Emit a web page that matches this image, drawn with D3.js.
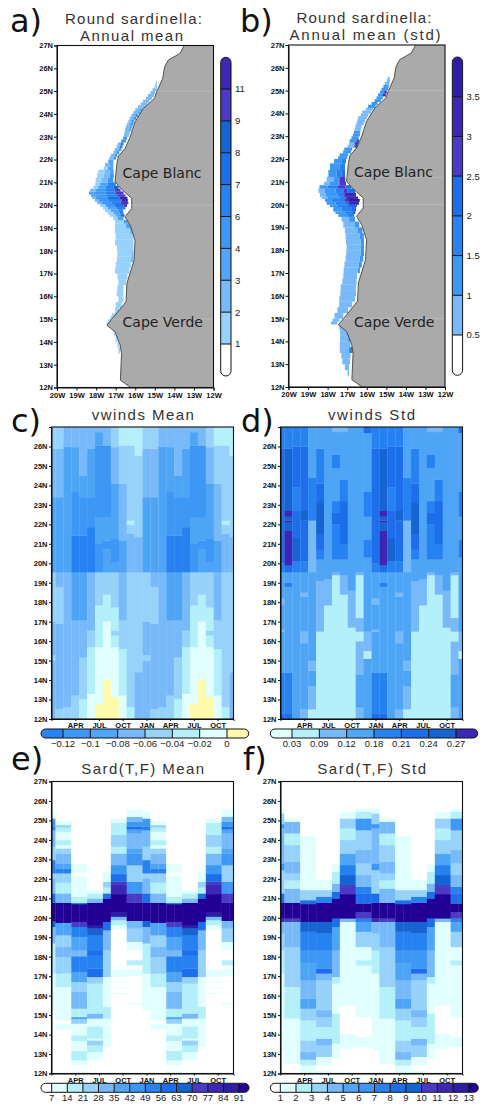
<!DOCTYPE html>
<html>
<head>
<meta charset="utf-8">
<script src="https://d3js.org/d3.v7.min.js"></script>
<style>
html, body { margin: 0; padding: 0; background: #fff; }
svg { display: block; }
.axis text { font-family: "Liberation Sans", sans-serif; font-size: 7.5px; font-weight: bold; fill: #111; }
.axis path, .axis line { stroke: #111; stroke-width: 1; }
</style>
</head>
<body>
<svg id="chart" width="486" height="1114">
  <defs><filter id="soft" x="-2%" y="-2%" width="104%" height="104%"><feGaussianBlur stdDeviation="0.4"/></filter></defs>
</svg>
<script>
// palette of the plot (light -> dark)
const c = ['#ffffff', '#e1ffff', '#b4f0fa', '#96d2fa', '#78b9fa', '#50a5f5', '#3c97f5', '#2882f0',
           '#1e6eeb', '#1464d2', '#4b3ac4', '#3c28b4', '#2d1ea5', '#230096'];
const yellow = '#fffaaa';

const monthNames = ['JAN', 'FEB', 'MAR', 'APR', 'MAY', 'JUN', 'JUL', 'AUG', 'SEP', 'OCT', 'NOV', 'DEC'];

// colour bars
const ticksA = [1, 2, 3, 4, 6, 7, 8, 9, 11];
const colorsA = [c[0], c[3], c[4], c[5], c[6], c[7], c[8], c[9], c[10], c[11]];
const ticksB = [0.5, 1, 1.5, 2, 2.5, 3, 3.5];
const colorsB = [c[0], c[4], c[6], c[7], c[8], c[10], c[11], c[12]];
const ticksC = [-0.12, -0.1, -0.08, -0.06, -0.04, -0.02, 0];
const colorsC = [c[7], c[6], c[5], c[4], c[3], c[2], c[1], yellow];
const ticksD = [0.03, 0.09, 0.12, 0.18, 0.21, 0.24, 0.27];
const colorsD = [c[1], c[2], c[4], c[5], c[7], c[8], c[9], c[11]];
const ticksE = [7, 14, 21, 28, 35, 42, 49, 56, 63, 70, 77, 84, 91];
const colorsE = c;
const ticksF = [1, 2, 3, 4, 5, 6, 7, 8, 9, 10, 11, 12, 13];
const colorsF = c;

// coast, north to south [lon, lat]
const coast = [[-13.5, 27], [-13.72, 26.65], [-14.31, 26.36], [-14.5, 26.06], [-14.6, 25.55], [-14.9, 24.97],
  [-15.02, 24.68], [-15.58, 24.24], [-16.01, 23.65], [-16.26, 22.99], [-16.52, 22.48], [-16.86, 22.15],
  [-16.94, 21.82], [-17.03, 21.02], [-16.74, 20.73], [-16.18, 20.29], [-16.18, 19.85], [-16.52, 19.49],
  [-16.26, 19.12], [-16.01, 18.46], [-16.06, 17.58], [-16.43, 16.56], [-16.47, 15.76], [-17.03, 15.17],
  [-17.45, 14.73], [-17.03, 14.44], [-16.77, 13.86], [-16.7, 13.49], [-16.76, 12.32], [-16.23, 12]];
// pale seams across the land [lat, lon where they start]
const seamsA = [[25, -14.9], [20, -16.18], [15, -17.2]];
const seamsB = [[25, -14.9], [21.2, -17], [20, -16.18], [15, -17.2]];
const capeNames = [['Cape Blanc', 21.2], ['Cape Verde', 14.65]];

// annual mean: [south edge of row, [lonW, lonE, value], ...]
const sardAnnualMean = [
  [13.5, [-16.86, -16.77, 1.5]],
  [13.75, [-16.91, -16.81, 1.5]],
  [14, [-17, -16.91, 1.5]],
  [14.25, [-17.08, -17, 1.5]],
  [14.5],
  [14.75, [-17.45, -17.25, 1.5]],
  [14.875, [-17.38, -17.12, 1.5]],
  [15, [-17.28, -17, 1.5]],
  [15.125, [-17.2, -16.92, 1.5]],
  [15.25, [-17.03, -16.81, 1.5]],
  [15.5, [-17, -16.69, 1.5]],
  [15.75, [-16.86, -16.6, 1.5]],
  [16, [-16.94, -16.6, 1.5]],
  [16.25, [-16.91, -16.6, 1.5]],
  [16.5, [-16.86, -16.47, 1.5]],
  [16.75, [-16.91, -16.4, 1.5]],
  [17, [-17.03, -16.3, 1.5]],
  [17.25, [-17, -16.23, 1.5]],
  [17.5, [-16.94, -16.22, 1.5], [-16.22, -16.09, 2.5]],
  [17.75, [-16.91, -16.2, 1.5], [-16.2, -16.09, 2.5]],
  [18, [-16.94, -16.09, 1.5]],
  [18.25, [-17.03, -16.09, 1.5]],
  [18.5, [-17, -16.09, 1.5]],
  [18.75, [-17.03, -16.3, 1.5], [-16.3, -16.09, 2.5]],
  [19, [-17.03, -16.47, 1.5], [-16.47, -16.23, 3.5]],
  [19.2, [-17.03, -16.6, 1.5], [-16.6, -16.35, 3.5]],
  [19.35, [-17.12, -16.9, 1.5], [-16.9, -16.6, 3.5]],
  [19.5, [-17.3, -17, 1.5], [-17, -16.75, 3.5], [-16.75, -16.55, 8.5]],
  [19.6, [-17.41, -17.1, 1.5], [-17.1, -16.8, 3.5], [-16.8, -16.6, 6.5]],
  [19.71, [-17.55, -17.25, 1.5], [-17.25, -16.85, 3.5], [-16.85, -16.62, 6.5]],
  [19.82, [-17.65, -17.4, 1.5], [-17.4, -16.95, 3.5], [-16.95, -16.5, 6.5]],
  [19.93, [-17.8, -17.5, 1.5], [-17.5, -17.05, 5], [-17.05, -16.6, 7.5], [-16.6, -16.42, 10]],
  [20.05, [-17.95, -17.7, 2.5], [-17.7, -17.2, 5], [-17.2, -16.75, 6.5], [-16.75, -16.35, 10]],
  [20.15, [-18.06, -17.85, 2.5], [-17.85, -17.35, 5], [-17.35, -16.7, 6.5], [-16.7, -16.38, 12]],
  [20.27, [-18.2, -18, 2.5], [-18, -17.4, 5], [-17.4, -16.8, 7.5], [-16.8, -16.4, 12]],
  [20.37, [-18.26, -18, 3.5], [-18, -17.45, 5], [-17.45, -16.9, 6.5], [-16.9, -16.5, 10]],
  [20.47, [-18.37, -18.1, 3.5], [-18.1, -17.5, 5], [-17.5, -17, 6.5], [-17, -16.6, 10]],
  [20.6, [-18.3, -18, 2.5], [-18, -17.5, 5], [-17.5, -17.05, 6.5], [-17.05, -16.75, 10]],
  [20.72, [-18.14, -17.9, 1.5], [-17.9, -17.5, 3.5], [-17.5, -17.1, 6.5], [-17.1, -16.85, 8.5]],
  [20.85, [-18.05, -17.8, 1.5], [-17.8, -17.4, 3.5], [-17.4, -17, 6.5]],
  [21, [-18.02, -17.7, 1.5], [-17.7, -17.4, 2.5], [-17.4, -17.12, 5]],
  [21.2, [-17.95, -17.6, 1.5], [-17.6, -17.3, 2.5], [-17.3, -17.1, 5]],
  [21.4, [-17.89, -17.55, 1.5], [-17.55, -17.3, 2.5], [-17.3, -17.1, 3.5]],
  [21.55, [-17.6, -17.4, 1.5], [-17.4, -17.12, 3.5]],
  [21.69, [-17.55, -17.3, 2.5], [-17.3, -17.12, 3.5]],
  [21.85, [-17.38, -17.12, 3.5]],
  [22, [-17.32, -17.1, 2.5], [-17.1, -16.98, 5]],
  [22.125, [-17.25, -17.05, 2.5], [-17.05, -16.92, 5]],
  [22.25, [-17.12, -16.95, 2.5], [-16.95, -16.82, 5]],
  [22.375, [-17.05, -16.85, 2.5], [-16.85, -16.72, 5]],
  [22.5, [-16.95, -16.8, 2.5], [-16.8, -16.65, 6.5]],
  [22.625, [-16.9, -16.75, 2.5], [-16.75, -16.6, 6.5]],
  [22.75, [-16.72, -16.48, 5]],
  [22.875, [-16.62, -16.42, 5]],
  [23, [-16.58, -16.32, 2.5]],
  [23.125, [-16.55, -16.28, 2.5]],
  [23.25, [-16.52, -16.35, 2.5], [-16.35, -16.2, 3.5]],
  [23.375, [-16.48, -16.3, 2.5], [-16.3, -16.15, 3.5]],
  [23.5, [-16.42, -16.25, 2.5], [-16.25, -16.1, 5]],
  [23.625, [-16.35, -16.2, 2.5], [-16.2, -16.05, 5]],
  [23.75, [-16.28, -16.1, 2.5], [-16.1, -15.95, 5]],
  [23.875, [-16.2, -16, 2.5], [-16, -15.85, 5]],
  [24, [-16.1, -15.88, 2.5], [-15.88, -15.72, 3.5]],
  [24.125, [-16, -15.75, 2.5], [-15.75, -15.62, 3.5]],
  [24.25, [-15.86, -15.48, 2.5]],
  [24.375, [-15.72, -15.38, 2.5]],
  [24.5, [-15.6, -15.28, 2.5]],
  [24.625, [-15.45, -15.15, 2.5]],
  [24.75, [-15.35, -15.05, 2.5]],
  [24.875, [-15.22, -14.98, 2.5]],
  [25, [-15.12, -14.9, 2.5]],
  [25.125, [-15.02, -14.88, 1.5]],
  [25.25, [-14.98, -14.88, 1.5]],
  [25.35, [-14.95, -14.88, 1.5]],
  [25.45]
];

// annual std, same layout
const sardAnnualStd = [
  [12.5, [-16.98, -16.9, 0.75]],
  [12.75, [-17.12, -16.9, 0.75]],
  [13, [-17.25, -16.86, 0.75]],
  [13.25, [-17.3, -16.83, 0.75]],
  [13.5, [-17.38, -16.9, 0.75], [-16.9, -16.72, 1.75]],
  [13.75, [-17.38, -16.83, 0.75]],
  [14, [-17.37, -16.95, 0.75], [-16.95, -16.8, 1.25]],
  [14.25, [-17.36, -17, 0.75], [-17, -16.9, 1.25]],
  [14.5, [-17.4, -17.12, 0.75]],
  [14.75, [-17.83, -17.5, 0.75]],
  [14.875, [-17.75, -17.4, 0.75]],
  [15, [-17.65, -17.2, 0.75]],
  [15.25, [-17.5, -16.95, 0.75]],
  [15.5, [-17.41, -16.75, 0.75]],
  [15.75, [-17.4, -16.6, 0.75]],
  [16, [-17.35, -16.55, 0.75]],
  [16.25, [-17.33, -16.55, 0.75]],
  [16.5, [-17.25, -16.52, 0.75]],
  [16.75, [-17.2, -16.5, 0.75]],
  [17, [-17.18, -16.45, 0.75], [-16.45, -16.35, 1.25]],
  [17.25, [-17.14, -16.4, 0.75], [-16.4, -16.25, 1.25]],
  [17.5, [-17.08, -16.35, 0.75], [-16.35, -16.18, 1.25]],
  [17.75, [-17.05, -16.3, 0.75], [-16.3, -16.14, 1.25]],
  [18, [-17.03, -16.3, 0.75], [-16.3, -16.14, 1.25]],
  [18.25, [-17.06, -16.3, 0.75], [-16.3, -16.14, 1.25]],
  [18.5, [-17.08, -16.35, 0.75], [-16.35, -16.15, 1.25]],
  [18.75, [-17.12, -16.45, 0.75], [-16.45, -16.22, 1.25]],
  [19, [-17.2, -16.6, 0.75], [-16.6, -16.38, 1.25]],
  [19.25, [-17.28, -16.9, 0.75], [-16.9, -16.6, 1.25]],
  [19.47, [-17.45, -17, 1.25], [-17, -16.65, 1.75]],
  [19.6, [-17.6, -17.1, 1.25], [-17.1, -16.7, 1.75], [-16.7, -16.58, 2.75]],
  [19.7, [-17.71, -17.3, 1.25], [-17.3, -16.8, 1.75], [-16.8, -16.55, 2.25]],
  [19.9, [-17.88, -17.5, 1.25], [-17.5, -17, 1.75], [-17, -16.5, 2.25]],
  [20, [-18.05, -17.6, 1.25], [-17.6, -17.1, 1.75], [-17.1, -16.9, 2.25], [-16.9, -16.4, 3.25]],
  [20.13, [-18.13, -17.8, 1.25], [-17.8, -17.15, 1.75], [-17.15, -16.95, 2.75], [-16.95, -16.36, 3.75]],
  [20.25, [-18.3, -18, 0.75], [-18, -17.4, 1.25], [-17.4, -17.05, 1.75], [-17.05, -16.45, 3.25]],
  [20.35, [-18.4, -18.1, 0.75], [-18.1, -17.5, 1.25], [-17.5, -17.15, 1.75], [-17.15, -16.55, 3.25]],
  [20.52, [-18.47, -18.15, 0.75], [-18.15, -17.6, 1.25], [-17.6, -17.2, 1.75], [-17.2, -17, 2.75], [-17, -16.6, 2.25]],
  [20.71, [-18.42, -18, 1.25], [-18, -17.5, 1.75], [-17.5, -17.1, 2.75], [-17.1, -16.8, 2.25]],
  [20.85, [-18.18, -17.9, 0.75], [-17.9, -17.45, 1.25], [-17.45, -17.37, 1.75], [-17.37, -17.06, 2.75]],
  [21, [-18.05, -17.7, 0.75], [-17.7, -17.4, 1.25], [-17.4, -17.1, 2.75]],
  [21.22, [-17.96, -17.55, 1.25], [-17.55, -17.3, 1.75], [-17.3, -17.11, 2.25]],
  [21.52, [-17.88, -17.4, 1.25], [-17.4, -17.11, 1.75]],
  [21.81, [-17.67, -17.3, 1.25], [-17.3, -17.06, 1.75]],
  [22, [-17.46, -17, 1.25]],
  [22.125, [-17.38, -16.95, 1.25]],
  [22.25, [-17.21, -16.8, 1.25]],
  [22.375, [-17.15, -16.75, 1.25]],
  [22.5, [-16.98, -16.62, 0.75], [-16.62, -16.44, 2.75]],
  [22.625, [-16.9, -16.62, 0.75], [-16.62, -16.42, 2.75]],
  [22.75, [-16.87, -16.5, 1.25], [-16.5, -16.4, 2.75]],
  [22.875, [-16.78, -16.42, 1.25]],
  [23, [-16.7, -16.35, 1.25]],
  [23.125, [-16.66, -16.33, 1.25]],
  [23.25, [-16.61, -16.3, 0.75]],
  [23.375, [-16.58, -16.25, 0.75]],
  [23.5, [-16.53, -16.15, 0.75]],
  [23.625, [-16.48, -16.08, 0.75]],
  [23.75, [-16.44, -16, 0.75]],
  [23.875, [-16.3, -15.92, 0.75]],
  [24, [-16.22, -15.78, 0.75]],
  [24.125, [-16.05, -15.68, 0.75]],
  [24.25, [-15.93, -15.55, 1.25]],
  [24.375, [-15.75, -15.45, 1.25]],
  [24.5, [-15.6, -15.28, 1.25]],
  [24.625, [-15.5, -15.18, 1.25]],
  [24.75, [-15.42, -15.17, 1.25], [-15.17, -15.03, 3.25]],
  [24.875, [-15.32, -15.1, 1.25], [-15.1, -14.98, 3.25]],
  [25, [-15.25, -14.92, 1.25]],
  [25.125, [-15.15, -14.88, 1.25]],
  [25.25, [-15.08, -14.84, 0.75]],
  [25.375, [-14.98, -14.82, 0.75]],
  [25.5, [-14.92, -14.82, 0.75]],
  [25.6]
];

// monthly sections: each month is a list of [north edge of band, value] going north from 12N
const windMeanMonths = [
  [[15, -.07], [15.3, -.05], [17, -.07], [19.55, -.05], [23.4, -.09], [25.9, -.07], [27, -.05]],
  [[12.53, -.05], [16.9, -.07], [18.8, -.05], [19.55, -.07], [23.4, -.09], [25.9, -.07], [27, -.05]],
  [[12.62, -.05], [19.55, -.07], [26, -.09], [27, -.07]],
  [[13.22, -.05], [17.07, -.07], [19.55, -.09], [21.43, -.13], [23.66, -.11], [25.97, -.09], [27, -.07]],
  [[13.04, -.03], [15.18, -.05], [17.07, -.07], [19.55, -.09], [21.43, -.13], [23.4, -.11], [24.52, -.09], [27, -.07]],
  [[13.3, -.01], [15.7, -.03], [16.55, -.05], [19.55, -.07], [21.86, -.13], [23.4, -.11], [25.89, -.09], [27, -.07]],
  [[12.79, .01], [15.7, -.01], [17.84, -.03], [19.55, -.05], [21, -.11], [22.38, -.09], [26.06, -.11], [26.74, -.09], [27, -.07]],
  [[14.02, .01], [16.5, -.01], [17.02, -.01], [18.4, -.03], [19.55, -.05], [20.75, -.09], [21.18, -.11], [22.38, -.09], [26.06, -.11], [27, -.07]],
  [[13.13, .01], [15.7, -.01], [16.3, -.03], [16.55, -.05], [17.75, -.03], [19.55, -.05], [20.06, -.09], [21.26, -.11], [24.09, -.09], [25.97, -.07], [27, -.05]],
  [[13.22, -.01], [15.61, -.03], [17.07, -.05], [19.55, -.07], [21.18, -.09], [24.09, -.07], [26.06, -.05], [27, -.03]],
  [[12.62, -.03], [19.55, -.05], [21.52, -.07], [22, -.05], [22.2, -.03], [26.06, -.05], [27, -.03]],
  [[14.41, -.07], [19.55, -.05], [21.35, -.07], [25.54, -.05], [27, -.03]]
];

const windStdMonths = [
  [[12.3, .22], [14.4, .19], [16.5, .15], [16.6, .11], [17.9, .15], [18.2, .11], [19.55, .15], [20, .19], [22.7, .23], [25.9, .23], [27, .19]],
  [[12.3, .22], [14.4, .19], [18.8, .15], [19, .19], [19.55, .15], [19.9, .22], [21.7, .28], [22.1, .25], [22.2, .28], [22.4, .25], [22.7, .28], [25.9, .25], [27, .19]],
  [[19.55, .15], [20.1, .19], [21.3, .25], [22.7, .22], [23.9, .19], [26, .22], [27, .19]],
  [[12.5, .11], [15.9, .15], [16.5, .11], [18.3, .15], [18.5, .11], [19.55, .15], [20.1, .19], [22.2, .22], [22.7, .25], [26, .22], [27, .19]],
  [[12.5, .03], [13.7, .11], [14.5, .15], [15, .11], [15.2, .15], [19.55, .15], [22.2, .11], [24.4, .19], [27, .15]],
  [[16.5, .05], [19.1, .11], [19.55, .15], [20.2, .15], [20.7, .19], [21.5, .22], [23.1, .25], [24.1, .22], [25.9, .19], [27, .15]],
  [[17.84, .05], [19.2, .11], [19.55, .15], [20.75, .15], [27, .15]],
  [[19.4, .05], [19.55, .11], [20.2, .15], [21.2, .19], [22, .19], [22.6, .22], [23.2, .19], [24.9, .15], [25.6, .19], [26.75, .15], [27, .11]],
  [[18.4, .05], [19.4, .11], [20.2, .15], [21, .19], [23.2, .22], [24.3, .19], [26.75, .15], [27, .11]],
  [[16.7, .05], [16.9, .11], [18.6, .11], [19.3, .15], [27, .15]],
  [[12.6, .11], [14.3, .15], [16, .11], [16.5, .05], [17.2, .11], [19.4, .05], [19.55, .11], [27, .15]],
  [[15.1, .15], [15.5, .05], [16.5, .11], [20.3, .15], [21.2, .19], [22.4, .15], [23.7, .19], [26.7, .15], [27, .22]]
];

// the sections of sardine biomass come in two-month groups
const sardMeanJan = [[15.26, 0], [17.14, 10], [18.69, 17], [19.54, 31], [19.85, 66], [20.78, 95], [21.26, 59], [22.03, 31], [22.29, 24], [22.97, 52], [23.66, 24], [24.51, 31], [24.69, 52], [25.11, 45], [25.46, 10], [27, 0]];
const sardMeanFeb = [[14.26, 0], [14.57, 10], [14.74, 0], [16.46, 10], [17.14, 17], [18, 24], [18.51, 31], [19.11, 24], [19.75, 38], [20.78, 95], [21.26, 31], [21.81, 17], [22.29, 24], [22.54, 52], [22.8, 38], [23.31, 31], [23.57, 24], [23.74, 10], [24, 17], [24.43, 10], [24.65, 17], [24.77, 24], [24.98, 10], [27, 0]];
const sardMeanApr = [[12.12, 10], [12.43, 0], [12.69, 10], [13.17, 17], [13.68, 10], [13.97, 17], [14.57, 10], [14.81, 24], [14.91, 38], [15.34, 17], [16.2, 31], [16.71, 24], [17.23, 38], [18.03, 52], [18.34, 31], [19.03, 38], [19.54, 52], [19.8, 73], [20.71, 95], [20.78, 52], [21.09, 17], [22.15, 10], [22.32, 0], [22.8, 10], [27, 0]];
const sardMeanJun = [[12.69, 0], [13.11, 10], [13.46, 17], [13.71, 24], [13.8, 10], [14.43, 17], [14.83, 10], [15.09, 31], [16.63, 17], [16.97, 24], [17.4, 59], [18.09, 52], [18.34, 59], [19.11, 52], [19.46, 66], [19.63, 87], [20.78, 95], [21, 31], [21.26, 17], [21.43, 10], [27, 0]];
const sardMeanAug = [[13.37, 0], [14.83, 10], [15.43, 17], [16.97, 10], [18.34, 24], [19.37, 31], [19.8, 59], [21, 95], [21.26, 59], [21.57, 17], [21.86, 24], [22.37, 10], [27, 0]];
const sardMeanSep = [[16.1, 0], [16.15, 10], [16.42, 0], [16.47, 10], [16.68, 0], [16.74, 10], [16.97, 0], [17.35, 10], [19.41, 0], [19.63, 10], [19.89, 17], [20.06, 31], [20.31, 87], [21.22, 95], [21.69, 80], [21.86, 73], [22.25, 59], [22.71, 45], [23.31, 31], [23.66, 17], [24.26, 24], [24.89, 17], [25.11, 10], [27, 0]];
const sardMeanNov = [[15.57, 0], [15.65, 10], [17.01, 0], [17.4, 10], [17.57, 0], [17.83, 17], [18.34, 0], [18.77, 10], [19.46, 24], [19.85, 31], [20.78, 95], [21.26, 73], [21.86, 45], [22.71, 24], [23.31, 45], [23.57, 38], [24.34, 31], [24.55, 38], [24.69, 59], [24.94, 45], [25.2, 31], [25.59, 10], [27, 0]];
const sardMeanMonths = [sardMeanJan, sardMeanFeb, sardMeanFeb, sardMeanApr, sardMeanApr, sardMeanJun, sardMeanJun, sardMeanAug, sardMeanSep, sardMeanSep, sardMeanNov, sardMeanNov];

const sardStdJan = [[13.2, .5], [17.14, 1.5], [18.34, 2.5], [19.2, 3.5], [19.8, 4.5], [19.97, 11.5], [20.78, 13.5], [21.26, 8.5], [22.46, 3.5], [22.8, 6.5], [24.6, 4.5], [24.82, 6.5], [25.37, 3.5], [25.63, 1.5], [27, .5]];
const sardStdFeb = [[12.51, .5], [14.83, 1.5], [16.46, 2.5], [18.51, 3.5], [19.8, 4.5], [19.97, 10.5], [20.78, 13.5], [21.51, 4.5], [21.94, 2.5], [22.29, 3.5], [22.89, 4.5], [23.74, 3.5], [24.34, 2.5], [24.94, 4.5], [25.11, 1.5], [27, .5]];
const sardStdApr = [[12.43, 1.5], [12.72, 2.5], [13.11, 4.5], [13.71, 3.5], [14.74, 2.5], [15.34, 3.5], [15.86, 5.5], [16.8, 4.5], [17.66, 5.5], [18.34, 6.5], [19.29, 7.5], [19.8, 9.5], [20.71, 13.5], [20.91, 8.5], [21.43, 3.5], [24.21, 1.5], [27, .5]];
const sardStdJun = [[12.17, 1.5], [12.43, .5], [12.86, 1.5], [13.46, 3.5], [13.8, 4.5], [14.4, 2.5], [14.91, 3.5], [15.26, 4.5], [16.8, 3.5], [17.14, 4.5], [17.4, 8.5], [18.34, 6.5], [19.2, 7.5], [19.8, 9.5], [20.78, 13.5], [21.09, 7.5], [21.43, 3.5], [21.98, 1.5], [27, .5]];
const sardStdAug = [[12.77, .5], [13.54, 1.5], [15.09, 2.5], [16.63, 1.5], [16.97, 2.5], [18.34, 4.5], [19.54, 5.5], [19.97, 8.5], [21, 13.5], [21.34, 8.5], [21.77, 4.5], [22.37, 2.5], [22.8, 1.5], [27, .5]];
const sardStdSep = [[13.29, .5], [14.06, 1.5], [15.51, .5], [19.8, 1.5], [19.97, 4.5], [21.22, 13.5], [21.69, 10.5], [22.2, 9.5], [22.71, 7.5], [23.31, 5.5], [24, 3.5], [24.6, 2.5], [25.11, 3.5], [25.46, 1.5], [27, .5]];
const sardStdNov = [[13.37, .5], [13.89, 1.5], [14.91, .5], [17.57, 1.5], [17.83, 2.5], [18.51, 1.5], [19.29, 3.5], [19.8, 5.5], [19.97, 7.5], [20.31, 10.5], [20.74, 13.5], [21.26, 8.5], [21.6, 7.5], [22.2, 4.5], [22.8, 3.5], [23.49, 4.5], [24.51, 3.5], [25.11, 6.5], [25.46, 2.5], [25.63, 1.5], [27, .5]];
const sardStdMonths = [sardStdJan, sardStdFeb, sardStdFeb, sardStdApr, sardStdApr, sardStdJun, sardStdJun, sardStdAug, sardStdSep, sardStdSep, sardStdNov, sardStdNov];

const svg = d3.select('#chart');
const latTicks = d3.range(12, 28);
const lonTicks = d3.range(-20, -11);

function frame(g, w, h) {
  g.append('rect').attr('width', w).attr('height', h)
    .attr('fill', 'none').attr('stroke', '#111').attr('stroke-width', 1.1);
}

function drawMap(o) {
  const g = svg.append('g').attr('transform', `translate(${o.x},${o.y})`);
  const x = d3.scaleLinear().domain([-20, -12]).range([0, o.w]);
  const y = d3.scaleLinear().domain([12, 27]).range([o.h, 0]);
  const color = d3.scaleThreshold().domain(o.ticks).range(o.colors);

  const cells = g.append('g').attr('filter', 'url(#soft)');
  o.rows.forEach((row, i) => {
    const top = i < o.rows.length - 1 ? o.rows[i + 1][0] : row[0];
    row.slice(1).forEach(run => {
      cells.append('rect')
        .attr('x', x(run[0]))
        .attr('y', y(top))
        .attr('width', x(run[1]) - x(run[0]))
        .attr('height', y(row[0]) - y(top) + 0.2)
        .attr('fill', color(run[2]));
    });
  });

  const line = d3.line().x(d => x(d[0])).y(d => y(d[1]));
  g.append('path')
    .attr('d', line(coast.concat([[-12, 12], [-12, 27]])) + 'Z')
    .attr('fill', '#aaaaaa');
  g.append('path')
    .attr('d', line(coast))
    .attr('fill', 'none').attr('stroke', '#444').attr('stroke-width', 0.9);

  o.seams.forEach(s => {
    g.append('line')
      .attr('x1', x(s[1])).attr('x2', x(-12))
      .attr('y1', y(s[0])).attr('y2', y(s[0]))
      .attr('stroke', '#c2c2c2').attr('stroke-width', 0.6);
  });

  capeNames.forEach(d => {
    g.append('text')
      .attr('x', x(o.capeLon))
      .attr('y', y(d[1]))
      .attr('font-family', 'DejaVu Sans')
      .attr('font-size', 14)
      .attr('fill', '#222')
      .text(d[0]);
  });

  g.append('g').attr('class', 'axis').attr('transform', `translate(0,${o.h})`)
    .call(d3.axisBottom(x).tickValues(lonTicks).tickSize(3).tickPadding(2).tickFormat(d => -d + 'W'));
  g.append('g').attr('class', 'axis')
    .call(d3.axisLeft(y).tickValues(latTicks).tickSize(3).tickPadding(1).tickFormat(d => d + 'N'));
  frame(g, o.w, o.h);
}

function drawSection(o) {
  const g = svg.append('g').attr('transform', `translate(${o.x},${o.y})`);
  const x = d3.scaleLinear().domain([0, 23]).range([0, o.w]).clamp(true);
  const y = d3.scaleLinear().domain([12, 27]).range([o.h, 0]);
  const color = d3.scaleThreshold().domain(o.ticks).range(o.colors);

  const cells = g.append('g').attr('filter', 'url(#soft)');
  d3.range(24).forEach(t => {
    let south = 12;
    o.months[t % 12].forEach(band => {
      cells.append('rect')
        .attr('x', x(t - 0.5))
        .attr('y', y(band[0]))
        .attr('width', x(t + 0.5) - x(t - 0.5) + 0.3)
        .attr('height', y(south) - y(band[0]) + 0.3)
        .attr('fill', color(band[1]));
      south = band[0];
    });
  });

  g.append('g').attr('class', 'axis').attr('transform', `translate(0,${o.h})`)
    .call(d3.axisBottom(x).tickValues(d3.range(3, 23, 3)).tickSize(2).tickPadding(2)
      .tickFormat(t => monthNames[t % 12]));
  g.append('g').attr('class', 'axis')
    .call(d3.axisLeft(y).tickValues(o.latTicks).tickSize(2.5).tickPadding(1.5).tickFormat(d => d + 'N'));
  frame(g, o.w, o.h);
}

// colour bar: ticks sit on a linear index scale, end cells are rounded off
function drawBar(o) {
  const n = o.ticks.length;
  const id = 'clip' + o.id;
  const g = svg.append('g');
  const pos = d3.scaleLinear().domain([0, n - 1]).range(o.range);
  const edges = [o.start].concat(o.ticks.map((d, i) => pos(i))).concat([o.end]);
  const lo = Math.min(o.start, o.end), len = Math.abs(o.end - o.start);

  const bar = o.vertical
    ? { x: o.across, y: lo, width: o.thick, height: len }
    : { x: lo, y: o.across, width: len, height: o.thick };
  g.append('clipPath').attr('id', id).append('rect')
    .attr('x', bar.x).attr('y', bar.y).attr('width', bar.width).attr('height', bar.height)
    .attr('rx', o.thick / 2).attr('ry', o.thick / 2);

  const cells = g.append('g').attr('clip-path', `url(#${id})`);
  o.colors.forEach((col, i) => {
    const a = Math.min(edges[i], edges[i + 1]), b = Math.max(edges[i], edges[i + 1]);
    cells.append('rect')
      .attr('x', o.vertical ? o.across : a)
      .attr('y', o.vertical ? a : o.across)
      .attr('width', o.vertical ? o.thick : b - a)
      .attr('height', o.vertical ? b - a : o.thick)
      .attr('fill', col);
  });
  o.ticks.forEach((t, i) => {
    const p = pos(i);
    cells.append('line')
      .attr('x1', o.vertical ? o.across : p).attr('x2', o.vertical ? o.across + o.thick : p)
      .attr('y1', o.vertical ? p : o.across).attr('y2', o.vertical ? p : o.across + o.thick)
      .attr('stroke', '#111').attr('stroke-width', 1);
    g.append('text')
      .attr('x', o.vertical ? o.across + o.thick + 4 : p)
      .attr('y', o.vertical ? p + 3.4 : o.across + o.thick + 9)
      .attr('text-anchor', o.vertical ? 'start' : 'middle')
      .attr('font-family', 'Liberation Sans')
      .attr('font-size', 9.5)
      .attr('fill', '#222')
      .text(String(t).replace('-', '\u2212'));
  });
  g.append('rect')
    .attr('x', bar.x).attr('y', bar.y).attr('width', bar.width).attr('height', bar.height)
    .attr('rx', o.thick / 2).attr('ry', o.thick / 2)
    .attr('fill', 'none').attr('stroke', '#111').attr('stroke-width', 1);
}

function title(cx, base, str, len) {
  svg.append('text').attr('x', cx).attr('y', base)
    .attr('text-anchor', 'middle')
    .attr('font-family', 'Liberation Sans')
    .attr('font-size', 15)
    .attr('fill', '#333')
    .attr('textLength', len)
    .attr('lengthAdjust', 'spacing')
    .text(str);
}

function letter(x, base, str) {
  svg.append('text').attr('x', x).attr('y', base)
    .attr('font-family', 'DejaVu Sans')
    .attr('font-size', 32)
    .attr('fill', '#111')
    .text(str);
}

// maps
drawMap({ x: 57, y: 45.5, w: 156.5, h: 342, rows: sardAnnualMean, ticks: ticksA, colors: colorsA, seams: seamsA, capeLon: -16.65 });
drawMap({ x: 288.5, y: 45, w: 156.5, h: 342, rows: sardAnnualStd, ticks: ticksB, colors: colorsB, seams: seamsB, capeLon: -16.65 });

// sections
const latNoTop = d3.range(12, 27);
drawSection({ x: 51.5, y: 427, w: 182, h: 292, months: windMeanMonths, ticks: ticksC, colors: colorsC, latTicks: latNoTop });
drawSection({ x: 280.5, y: 427, w: 182, h: 292, months: windStdMonths, ticks: ticksD, colors: colorsD, latTicks: latNoTop });
drawSection({ x: 51.5, y: 781.5, w: 182, h: 292, months: sardMeanMonths, ticks: ticksE, colors: colorsE, latTicks: latTicks });
drawSection({ x: 280.5, y: 781.5, w: 182, h: 292, months: sardStdMonths, ticks: ticksF, colors: colorsF, latTicks: latTicks });

// colour bars
drawBar({ id: 'a', vertical: true, across: 220.7, thick: 10.3, start: 376, end: 57.3, range: [344, 89], ticks: ticksA, colors: colorsA });
drawBar({ id: 'b', vertical: true, across: 452.3, thick: 10.3, start: 375.3, end: 57, range: [335, 96.7], ticks: ticksB, colors: colorsB });
drawBar({ id: 'c', across: 729, thick: 9, start: 41, end: 248.7, range: [63, 227], ticks: ticksC, colors: colorsC });
drawBar({ id: 'd', across: 729, thick: 9, start: 270.3, end: 477.7, range: [292, 456], ticks: ticksD, colors: colorsD });
drawBar({ id: 'e', across: 1083.3, thick: 9, start: 41, end: 249, range: [51.7, 239], ticks: ticksE, colors: colorsE });
drawBar({ id: 'f', across: 1083.3, thick: 9, start: 270.3, end: 478.3, range: [280.3, 468.7], ticks: ticksF, colors: colorsF });

// titles
title(133.5, 24, 'Round sardinella:', 137);
title(131.5, 40.7, 'Annual mean', 103);
title(364, 22.7, 'Round sardinella:', 135);
title(365, 40, 'Annual mean (std)', 151);
title(142.8, 420, 'vwinds Mean', 102);
title(371.5, 420, 'vwinds Std', 87);
title(142.7, 774.3, 'Sard(T,F) Mean', 123);
title(371.7, 774.3, 'Sard(T,F) Std', 109);

letter(10, 31.7, 'a)');
letter(240, 31.7, 'b)');
letter(11, 431.7, 'c)');
letter(241, 431.7, 'd)');
letter(11, 770, 'e)');
letter(243, 770, 'f)');
</script>
</body>
</html>
